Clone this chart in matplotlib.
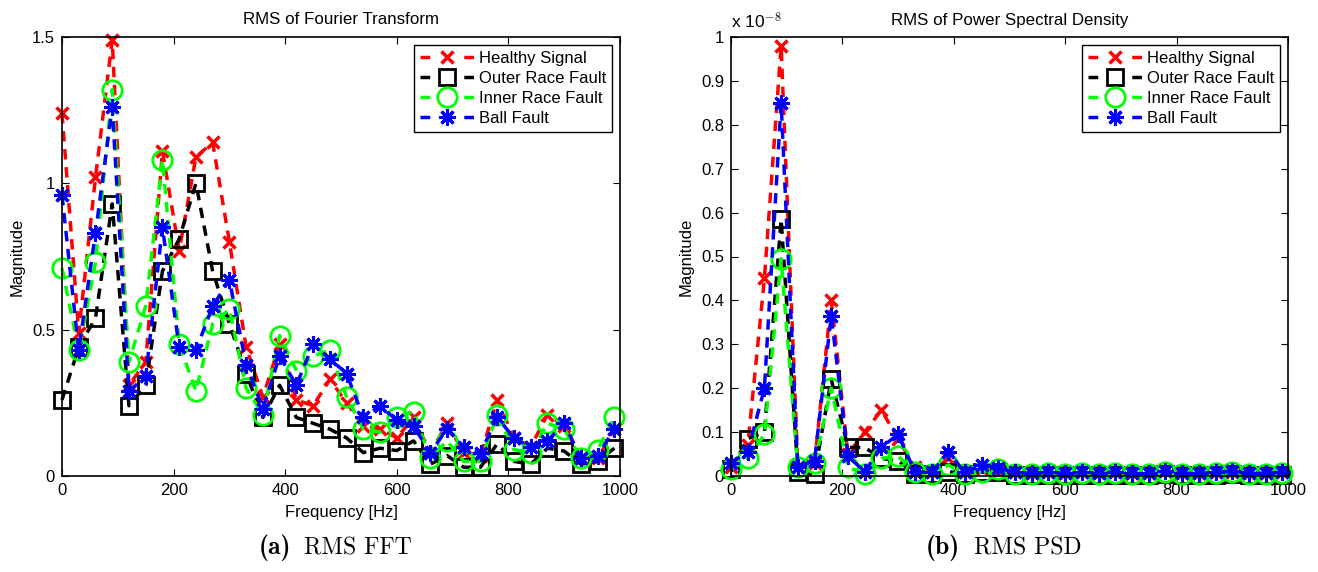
# RMS of FFT and PSD for the four bearing conditions

import matplotlib.pyplot as plt
from matplotlib.ticker import FuncFormatter

plt.rcParams['font.family'] = ['Liberation Sans', 'DejaVu Sans']
plt.rcParams['mathtext.fontset'] = 'cm'

# Frequency bins [Hz]
freq = [0, 30, 60, 90, 120, 150, 180, 210, 240, 270, 300, 330, 360, 390, 420, 450, 480,
        510, 540, 570, 600, 630, 660, 690, 720, 750, 780, 810, 840, 870, 900, 930, 960, 990]

labels = ["Healthy Signal", "Outer Race Fault", "Inner Race Fault", "Ball Fault"]

# RMS of Fourier transform
fft_healthy = [1.24, 0.49, 1.02, 1.49, 0.31, 0.39, 1.11, 0.77, 1.09, 1.14, 0.80, 0.44, 0.27,
               0.45, 0.26, 0.24, 0.33, 0.25, 0.17, 0.16, 0.13, 0.20, 0.08, 0.18, 0.08, 0.07,
               0.26, 0.13, 0.10, 0.21, 0.17, 0.06, 0.06, 0.16]
fft_outer = [0.26, 0.44, 0.54, 0.93, 0.24, 0.31, 0.70, 0.81, 1.00, 0.70, 0.52, 0.35, 0.20,
             0.31, 0.20, 0.18, 0.16, 0.13, 0.08, 0.095, 0.087, 0.12, 0.04, 0.07, 0.03, 0.03,
             0.11, 0.05, 0.04, 0.095, 0.085, 0.04, 0.05, 0.095]
fft_inner = [0.71, 0.43, 0.73, 1.32, 0.39, 0.58, 1.08, 0.45, 0.29, 0.52, 0.57, 0.30, 0.21,
             0.48, 0.36, 0.41, 0.43, 0.27, 0.16, 0.15, 0.20, 0.22, 0.06, 0.12, 0.05, 0.05,
             0.21, 0.09, 0.08, 0.18, 0.16, 0.06, 0.09, 0.20]
fft_ball = [0.96, 0.43, 0.83, 1.26, 0.29, 0.34, 0.85, 0.44, 0.43, 0.58, 0.67, 0.38, 0.23,
            0.41, 0.31, 0.45, 0.40, 0.35, 0.20, 0.24, 0.19, 0.17, 0.08, 0.16, 0.10, 0.08,
            0.20, 0.13, 0.10, 0.12, 0.18, 0.06, 0.07, 0.16]

# RMS of power spectral density (x 1e-8)
psd_healthy = [0.02, 0.07, 0.45, 0.98, 0.02, 0.03, 0.40, 0.05, 0.10, 0.15, 0.085, 0.02, 0.01,
               0.04, 0.01, 0.015, 0.012, 0.008, 0.006, 0.008, 0.006, 0.008, 0.006, 0.009, 0.006,
               0.006, 0.012, 0.006, 0.006, 0.008, 0.01, 0.006, 0.006, 0.008]
psd_outer = [0.015, 0.085, 0.10, 0.585, 0.01, 0.005, 0.22, 0.065, 0.065, 0.04, 0.035, 0.005,
             0.005, 0.01, 0.005, 0.01, 0.01, 0.003, 0.003, 0.003, 0.003, 0.003, 0.003, 0.003,
             0.003, 0.003, 0.004, 0.003, 0.003, 0.003, 0.004, 0.003, 0.003, 0.003]
psd_inner = [0.015, 0.04, 0.095, 0.495, 0.02, 0.03, 0.20, 0.02, 0.005, 0.04, 0.045, 0.01,
             0.005, 0.025, 0.005, 0.01, 0.015, 0.005, 0.004, 0.006, 0.004, 0.007, 0.004, 0.006,
             0.004, 0.004, 0.008, 0.004, 0.004, 0.006, 0.008, 0.004, 0.004, 0.006]
psd_ball = [0.03, 0.055, 0.20, 0.85, 0.02, 0.035, 0.365, 0.045, 0.01, 0.065, 0.095, 0.01,
            0.008, 0.055, 0.008, 0.025, 0.018, 0.008, 0.006, 0.009, 0.006, 0.008, 0.006, 0.01,
            0.006, 0.006, 0.012, 0.006, 0.006, 0.008, 0.011, 0.006, 0.006, 0.009]

styles = [
    dict(color='red', marker='x', markersize=9, markeredgewidth=2.5),
    dict(color='black', marker='s', markersize=11, markeredgewidth=2, markerfacecolor='none'),
    dict(color=(0, 1, 0), marker='o', markersize=14, markeredgewidth=2, markerfacecolor='none'),
    dict(color='blue', marker=(8, 2, 0), markersize=12, markeredgewidth=2.2),
]

fmt = FuncFormatter(lambda v, p: '%g' % round(v, 3))

fig = plt.figure(figsize=(13.18, 5.72), dpi=100)
ax1 = fig.add_axes([62 / 1318, 96 / 572, 558 / 1318, 439 / 572])
ax2 = fig.add_axes([731 / 1318, 96 / 572, 557 / 1318, 439 / 572])


def draw(ax, series, title, ymax, yticks):
    for vals, lab, st in zip(series, labels, styles):
        ax.plot(freq, vals, linestyle='--', linewidth=2.5, dashes=(3, 2.2), label=lab,
                clip_on=False, **st)
    ax.set_xlim(0, 1000)
    ax.set_ylim(0, ymax)
    ax.set_xticks([0, 200, 400, 600, 800, 1000])
    ax.set_yticks(yticks)
    ax.yaxis.set_major_formatter(fmt)
    ax.tick_params(direction='in', top=True, right=True, labelsize=12, length=5, pad=5)
    for s in ax.spines.values():
        s.set_linewidth(1.2)
    ax.set_title(title, fontsize=12.2, pad=9)
    ax.set_xlabel("Frequency [Hz]", fontsize=12, labelpad=5)
    ax.set_ylabel("Magnitude", fontsize=12, labelpad=5)
    leg = ax.legend(loc='upper right', fontsize=12, fancybox=False, framealpha=1,
                    edgecolor='black', handlelength=3.2, borderaxespad=0.5,
                    labelspacing=0.3, borderpad=0.35, handletextpad=0.3)
    leg.get_frame().set_linewidth(1.0)
    # MATLAB style legend line: short dash, marker, short dash
    for ln in leg.get_lines():
        ln.set_dashes((2.8, 9.8))


draw(ax1, [fft_healthy, fft_outer, fft_inner, fft_ball], "RMS of Fourier Transform",
     1.5, [0, 0.5, 1, 1.5])
draw(ax2, [psd_healthy, psd_outer, psd_inner, psd_ball], "RMS of Power Spectral Density",
     1.0, [0, 0.1, 0.2, 0.3, 0.4, 0.5, 0.6, 0.7, 0.8, 0.9, 1.0])
ax2.text(0, 1.012, r'x 10$^{-8}$', transform=ax2.transAxes, fontsize=12.5, va='bottom')

# sub-figure captions
cy = 1 - 548 / 572
fig.text(291 / 1318, cy, "(a)", family='cmb10', fontsize=18.5, ha='right', va='center')
fig.text(304 / 1318, cy, "RMS FFT", family='cmr10', fontsize=17, ha='left', va='center')
fig.text(960 / 1318, cy, "(b)", family='cmb10', fontsize=18.5, ha='right', va='center')
fig.text(974 / 1318, cy, "RMS PSD", family='cmr10', fontsize=17, ha='left', va='center')

plt.savefig("out.png", dpi=100)
